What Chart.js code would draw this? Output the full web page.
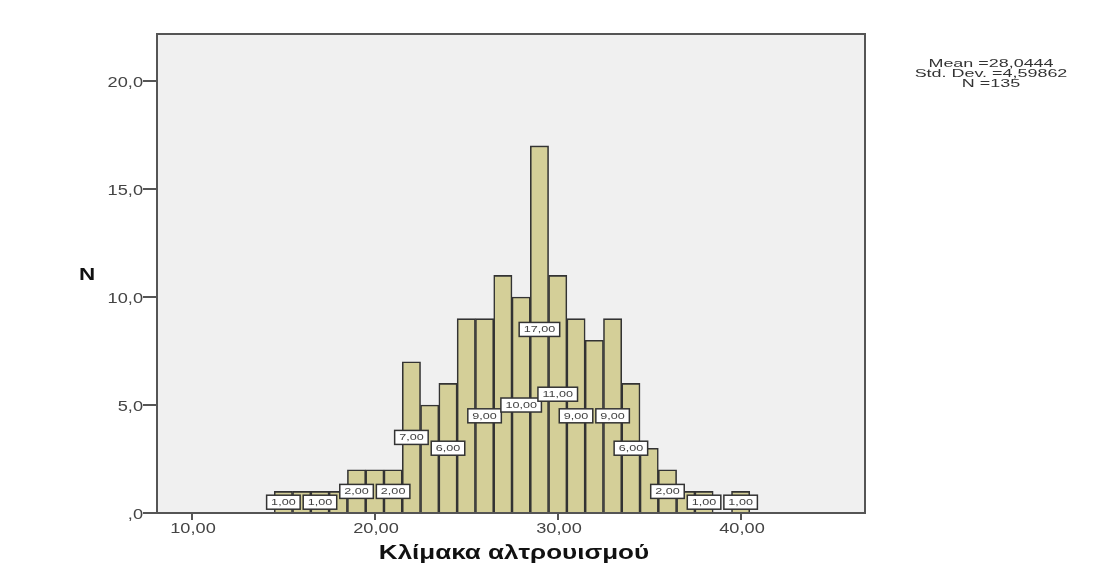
<!DOCTYPE html>
<html>
<head>
<meta charset="utf-8">
<script src="https://cdn.jsdelivr.net/npm/chart.js@4/dist/chart.umd.min.js"></script>
<style>
html,body{margin:0;padding:0;background:#fff;}
#wrap{width:1109px;height:570px;position:relative;}
</style>
</head>
<body>
<div id="wrap"><canvas id="c" width="1109" height="570"></canvas></div>
<script>
// Data
const binCenters = [15,16,17,18,19,20,21,22,23,24,25,26,27,28,29,30,31,32,33,34,35,36,37,38,39,40];
const counts     = [1, 1, 1, 1, 2, 2, 2, 7, 5, 6, 9, 9, 11,10,17,11,9, 8, 9, 6, 3, 2, 1, 1, 0, 1];
const labeledBins = [15,17,19,21,22,24,26,28,29,30,31,33,34,36,38,40];
const xTicks = [10,20,30,40];
const yTicks = [0,5,10,15,20];
const statsLines = ["Mean =28,0444","Std. Dev. =4,59862","N =135"];
const xTitle = "Κλίμακα αλτρουισμού";
const yTitle = "N";

const FONT = "'Liberation Sans', Arial, sans-serif";

const points = binCenters.map((b,i)=>({x:b,y:counts[i]}));

function fmtX(v){ return Number(v).toFixed(2).replace('.',','); }
function fmtY(v){ const s = Number(v).toFixed(1).replace('.',','); return s.startsWith('0') ? s.slice(1) : s; }

// draw horizontally stretched text (the reference rendering is widened)
function stretchText(ctx, txt, x, y, sx, align){
  const w = ctx.measureText(txt).width * sx;
  let left = x;
  if(align==='center') left = x - w/2;
  else if(align==='right') left = x - w;
  ctx.save();
  ctx.translate(left, y);
  ctx.scale(sx, 1);
  ctx.textAlign = 'left';
  ctx.fillText(txt, 0, 0);
  ctx.restore();
  return w;
}

const framePlugin = {
  id:'frame',
  beforeDraw(chart){
    const {ctx, chartArea:a} = chart;
    ctx.save();
    ctx.fillStyle = '#f0f0f0';
    ctx.fillRect(a.left, a.top, a.right-a.left, a.bottom-a.top);
    ctx.restore();
  },
  afterDatasetsDraw(chart){
    const {ctx, chartArea:a, scales} = chart;
    ctx.save();
    // frame
    ctx.strokeStyle = '#555';
    ctx.lineWidth = 2;
    ctx.strokeRect(a.left, a.top, a.right-a.left, a.bottom-a.top);

    // tick marks and tick labels
    ctx.strokeStyle = '#555';
    ctx.lineWidth = 2;
    ctx.fillStyle = '#444';
    ctx.textBaseline = 'middle';
    ctx.font = "14px " + FONT;
    yTicks.forEach(v=>{
      const y = Math.round(scales.y.getPixelForValue(v));
      ctx.beginPath(); ctx.moveTo(a.left-14, y); ctx.lineTo(a.left, y); ctx.stroke();
      stretchText(ctx, fmtY(v), a.left-14, y+2, 1.3, 'right');
    });
    xTicks.forEach(v=>{
      const x = Math.round(scales.x.getPixelForValue(v));
      ctx.beginPath(); ctx.moveTo(x, a.bottom); ctx.lineTo(x, a.bottom+7); ctx.stroke();
      stretchText(ctx, fmtX(v), x+1, a.bottom+16, 1.3, 'center');
    });

    // value labels
    ctx.font = "9px " + FONT;
    labeledBins.forEach(b=>{
      const i = binCenters.indexOf(b);
      const v = counts[i];
      const x = scales.x.getPixelForValue(b);
      const y = scales.y.getPixelForValue(v/2);
      const txt = v.toFixed(2).replace('.',',');
      const w = ctx.measureText(txt).width * 1.4 + 9;
      const h = 14;
      ctx.fillStyle = '#fff';
      ctx.fillRect(x-w/2, y-h/2, w, h);
      ctx.strokeStyle = '#333';
      ctx.lineWidth = 1.5;
      ctx.strokeRect(x-w/2, y-h/2, w, h);
      ctx.fillStyle = '#444';
      stretchText(ctx, txt, x, y+0.5, 1.4, 'center');
    });

    // axis titles
    ctx.fillStyle = '#111';
    ctx.font = "bold 20px " + FONT;
    stretchText(ctx, xTitle, 514, 553, 1.3, 'center');
    ctx.font = "bold 16px " + FONT;
    stretchText(ctx, yTitle, 87, 276, 1.4, 'center');

    // stats
    ctx.font = "11px " + FONT;
    ctx.fillStyle = '#333';
    statsLines.forEach((s,k)=>{
      stretchText(ctx, s, 991, 63.5 + k*10, 1.63, 'center');
    });
    ctx.restore();
  }
};

new Chart(document.getElementById('c'), {
  type:'bar',
  data:{
    datasets:[{
      data: points,
      backgroundColor:'#d4cf98',
      borderColor:'#333',
      borderWidth:1.6,
      borderSkipped:'start',
      barPercentage:1,
      categoryPercentage:1
    }]
  },
  options:{
    responsive:false,
    animation:false,
    events:[],
    layout:{padding:{top:34,right:244,left:0,bottom:0}},
    plugins:{legend:{display:false},tooltip:{enabled:false},title:{display:false}},
    scales:{
      x:{
        type:'linear',
        offset:false,
        min:8.09, max:46.8,
        afterFit(s){ s.height = 57; },
        afterBuildTicks(s){ s.ticks = xTicks.map(v=>({value:v})); },
        grid:{display:false, offset:false},
        border:{display:false},
        ticks:{display:false}
      },
      y:{
        min:0, max:22.18,
        afterFit(s){ s.width = 157; },
        afterBuildTicks(s){ s.ticks = yTicks.map(v=>({value:v})); },
        grid:{display:false},
        border:{display:false},
        ticks:{display:false}
      }
    }
  },
  plugins:[framePlugin]
});
</script>
</body>
</html>
